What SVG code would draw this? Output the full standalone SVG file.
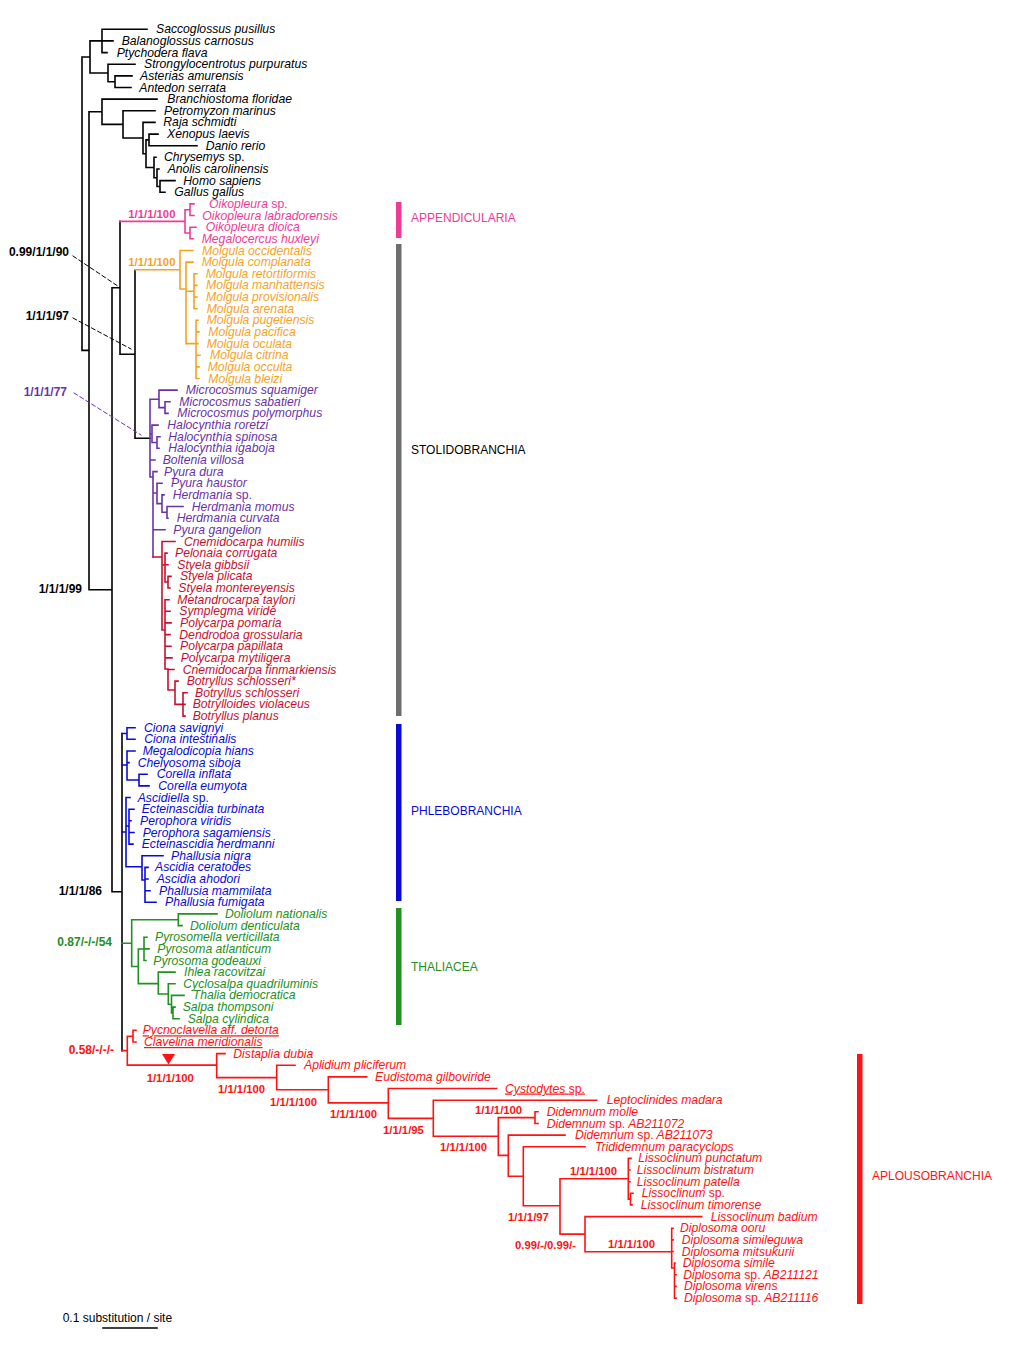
<svg xmlns="http://www.w3.org/2000/svg" width="1024" height="1365" viewBox="0 0 1024 1365">
<style>
path{fill:none;stroke-width:1.6;stroke-linecap:square}
.k{stroke:#000}.pk{stroke:#ee3c96}.or{stroke:#f5a31e}.pu{stroke:#6a32a8}.cr{stroke:#c8102e}.bl{stroke:#0a0ad8}.gr{stroke:#229022}.rd{stroke:#ff1212}
text{font-family:"Liberation Sans",Arial,sans-serif}
.sp{font-size:12.2px;font-style:italic}
.n{font-style:normal}
.lb{font-size:11.3px;font-weight:bold}
.lb2{font-size:12px;font-weight:bold;text-anchor:end}
.cl{font-size:12px}
.fk{fill:#000}.fpk{fill:#ee3c96}.for{fill:#f5a31e}.fpu{fill:#6a32a8}.fcr{fill:#c8102e}.fbl{fill:#0a0ad8}.fgr{fill:#229022}.frd{fill:#ff1212}
.u{text-decoration:underline}
.dash{stroke-width:1;stroke-dasharray:4 3}
</style>
<g id="connectors">
<path class="k" d="M82,57V350.4M82,57H90M82,350.4H89M90,40.9V73M90,40.9H102M90,73H108M102,29.3V52.6M102,29.3H147M102,40.9H113M102,52.6H107M108,64.2V81.7M108,64.2H135M108,81.7H115M115,75.9V87.5M115,75.9H132M115,87.5H131M89,111.8V589.7M89,111.8H102M89,589.7H112M102,99.1V124.4M102,99.1H157M102,124.4H123M123,110.8V138M123,110.8H155M123,138H143M143,122.4V153.7M143,122.4H155M143,153.7H146M146,139.9V167.5M146,139.9H149M146,167.5H154M149,134.1V145.7M149,134.1H158M149,145.7H197M154,157.3V177.7M154,157.3H156M154,177.7H157M157,169V186.5M157,169H159M157,186.5H160M160,180.6V192.3M160,180.6H175M160,192.3H165M112,287.7V891.7M112,287.7H120M112,891.7H122M120,221.4V354.2M120,354.2H135M135,269.8V438.3M135,438.3H150M122,733.5V1050.6"/>
<path class="pk" d="M120,221.4H185M185,209.7V233M185,209.7H190M185,233H190M190,203.9V215.5M190,203.9H194M190,215.5H194M190,227.2V238.8M190,227.2H196M190,238.8H193"/>
<path class="or" d="M135,269.8H180M180,250.5V289M180,250.5H193M180,289H186M186,262.1V343.6M186,262.1H193M186,291.2H194M194,273.7V308.7M194,273.7H197M194,285.4H197M194,297H197M194,308.7H197M186,343.6H196M196,320.3V378.5M196,320.3H198M196,331.9H199M196,343.6H198M196,355.2H200M196,366.9H199M196,378.5H199"/>
<path class="pu" d="M150,399.3V477M150,399.3H159M159,390.1V407.6M159,390.1H177M159,407.6H165M165,401.8V413.4M165,401.8H170M165,413.4H168M150,434H152M152,425.1V442.5M152,425.1H158M152,442.5H157M157,436.7V448.3M157,436.7H160M157,448.3H159M150,460H155M150,477H153M153,471.6V557M153,471.6H157M153,493H157M157,483.3V503.6M157,483.3H162M157,503.6H162M162,494.9V512.3M162,494.9H164M162,512.3H167M167,506.5V518.2M167,506.5H183M167,518.2H168M153,529.8H165"/>
<path class="cr" d="M153,557H162M162,541.5V630M162,541.5H175M162,565H165M165,553.1V582M165,553.1H167M165,564.7H168M165,582H168M168,576.4V588M168,576.4H171M168,588H170M162,630H165M165,599.7V669M165,599.7H169M165,611.3H170M165,622.9H171M165,634.6H170M165,646.2H171M165,657.9H172M165,669H168M168,669.5V690M168,669.5H174M168,690H175M175,681.1V704.4M175,681.1H178M175,704.4H183M183,692.8V716.1M183,692.8H187M183,704.4H185M183,716.1H185"/>
<path class="bl" d="M122,733.5H127M127,727.7V739.3M127,727.7H135M127,739.3H135M122,765H127M127,751V780M127,751H135M127,762.6H129M127,780H139M139,774.3V785.9M139,774.3H147M139,785.9H149M122,832H126M126,797.5V866.7M126,797.5H130M126,826H129M129,809.2V844.1M129,809.2H134M129,820.8H131M129,832.5H134M129,844.1H133M126,866.7H142M142,855.7V880M142,855.7H163M142,880H145M145,867.4V902.3M145,867.4H148M145,879H148M145,890.7H150M145,902.3H156"/>
<path class="gr" d="M122,943.2H131.7M131.7,919.8V966.5M131.7,919.8H178.3M178.3,913.9V925.6M178.3,913.9H217M178.3,925.6H182M131.7,966.5H138.3M138.3,949V983.6M138.3,949H144M144,937.2V960.5M144,937.2H147M144,948.9H149M144,960.5H146M138.3,983.6H158.3M158.3,972.1V994M158.3,972.1H175M158.3,994H168.3M168.3,983.8V1004.2M168.3,983.8H175M168.3,1004.2H171.5M171.5,995.4V1012.9M171.5,995.4H184M171.5,1012.9H173M173,1007.1V1018.7M173,1007.1H175M173,1018.7H179"/>
<path class="rd" d="M122,1050.6H127.3M127.3,1036.2V1065.1M127.3,1036.2H133M133,1030.3V1042M133,1030.3H136M133,1042H136M127.3,1065.1H216.7M216.7,1053.6V1077.6M216.7,1053.6H225M216.7,1077.6H276.7M276.7,1065.3V1089.8M276.7,1065.3H295M276.7,1089.8H328.3M328.3,1076.9V1102.9M328.3,1076.9H366.7M328.3,1102.9H388.3M388.3,1088.5V1118.4M388.3,1088.5H496.7M388.3,1118.4H433.3M433.3,1100.2V1136.3M433.3,1100.2H596.7M433.3,1136.3H498.3M498.3,1117.6V1155.4M498.3,1117.6H535M535,1111.8V1123.5M535,1111.8H538M535,1123.5H538M498.3,1155.4H508.3M508.3,1135.1V1176.2M508.3,1135.1H565M508.3,1176.2H523.3M523.3,1146.7V1205.8M523.3,1146.7H585M523.3,1205.8H560M560,1178.7V1234.1M560,1178.7H628.3M628.3,1158.4V1199.1M628.3,1158.4H631M628.3,1170H630M628.3,1181.7H630M628.3,1199.1H630.5M630.5,1193.3V1204.9M630.5,1193.3H633M630.5,1204.9H632M560,1234.1H585M585,1216.6V1251.7M585,1216.6H701.7M585,1251.7H671.7M671.7,1228.2V1268M671.7,1228.2H673M671.7,1239.9H673M671.7,1251.5H673M671.7,1268H674.5M674.5,1263.1V1298.1M674.5,1263.1H675M674.5,1274.8H676M674.5,1286.4H676M674.5,1298.1H676"/>
<polygon points="162,1054 175,1054 168.5,1064.5" fill="#ff1212"/>
<path class="k dash" d="M73,256L117,285.5M73,318L131,349"/>
<path class="pu dash" d="M74,393L141,435"/>
</g>
<g id="support">
<text class="lb2 fk" x="69" y="256">0.99/1/1/90</text>
<text class="lb2 fk" x="69" y="320">1/1/1/97</text>
<text class="lb2 fpu" x="67" y="396">1/1/1/77</text>
<text class="lb2 fk" x="82" y="593">1/1/1/99</text>
<text class="lb2 fk" x="102" y="895">1/1/1/86</text>
<text class="lb2 fgr" x="112" y="946">0.87/-/-/54</text>
<text class="lb2 frd" x="114" y="1054">0.58/-/-/-</text>
<text class="lb fpk" x="128.3" y="217.5">1/1/1/100</text>
<text class="lb for" x="128.3" y="266">1/1/1/100</text>
<text class="lb frd" x="146.7" y="1082">1/1/1/100</text>
<text class="lb frd" x="218" y="1092.5">1/1/1/100</text>
<text class="lb frd" x="270" y="1106">1/1/1/100</text>
<text class="lb frd" x="330" y="1118">1/1/1/100</text>
<text class="lb frd" x="383" y="1133.5">1/1/1/95</text>
<text class="lb frd" x="440" y="1151">1/1/1/100</text>
<text class="lb frd" x="475" y="1114">1/1/1/100</text>
<text class="lb frd" x="570" y="1175">1/1/1/100</text>
<text class="lb frd" x="508" y="1221">1/1/1/97</text>
<text class="lb frd" x="515" y="1249">0.99/-/0.99/-</text>
<text class="lb frd" x="608" y="1248">1/1/1/100</text>
</g>
<g id="outgroup" class="sp fk">
<text id="n0" x="156" y="33.3">Saccoglossus pusillus</text>
<text id="n1" x="121.7" y="44.9">Balanoglossus carnosus</text>
<text id="n2" x="116.7" y="56.6">Ptychodera flava</text>
<text id="n3" x="144" y="68.2">Strongylocentrotus purpuratus</text>
<text id="n4" x="140" y="79.9">Asterias amurensis</text>
<text id="n5" x="139.3" y="91.5">Antedon serrata</text>
<text id="n6" x="167.3" y="103.1">Branchiostoma floridae</text>
<text id="n7" x="164" y="114.8">Petromyzon marinus</text>
<text id="n8" x="163.3" y="126.4">Raja schmidti</text>
<text id="n9" x="167" y="138.1">Xenopus laevis</text>
<text id="n10" x="205.7" y="149.7">Danio rerio</text>
<text id="n11" x="164" y="161.3">Chrysemys <tspan class="n">sp.</tspan></text>
<text id="n12" x="167.7" y="173">Anolis carolinensis</text>
<text id="n13" x="183.3" y="184.6">Homo sapiens</text>
<text id="n14" x="174.3" y="196.3">Gallus gallus</text>
</g>
<g id="appendicularia" class="sp fpk">
<text id="n15" x="209" y="207.9">Oikopleura <tspan class="n">sp.</tspan></text>
<text id="n16" x="202.3" y="219.5">Oikopleura labradorensis</text>
<text id="n17" x="205.7" y="231.2">Oikopleura dioica</text>
<text id="n18" x="201.7" y="242.8">Megalocercus huxleyi</text>
</g>
<g id="molgulidae" class="sp for">
<text id="n19" x="202" y="254.5">Molgula occidentalis</text>
<text id="n20" x="201.7" y="266.1">Molgula complanata</text>
<text id="n21" x="205.7" y="277.7">Molgula retortiformis</text>
<text id="n22" x="206" y="289.4">Molgula manhattensis</text>
<text id="n23" x="206" y="301">Molgula provisionalis</text>
<text id="n24" x="206.7" y="312.7">Molgula arenata</text>
<text id="n25" x="206.7" y="324.3">Molgula pugetiensis</text>
<text id="n26" x="208.3" y="335.9">Molgula pacifica</text>
<text id="n27" x="206.7" y="347.6">Molgula oculata</text>
<text id="n28" x="210" y="359.2">Molgula citrina</text>
<text id="n29" x="207.7" y="370.9">Molgula occulta</text>
<text id="n30" x="208.3" y="382.5">Molgula bleizi</text>
</g>
<g id="pyuridae" class="sp fpu">
<text id="n31" x="185.7" y="394.1">Microcosmus squamiger</text>
<text id="n32" x="179.3" y="405.8">Microcosmus sabatieri</text>
<text id="n33" x="177.3" y="417.4">Microcosmus polymorphus</text>
<text id="n34" x="167.3" y="429.1">Halocynthia roretzi</text>
<text id="n35" x="168.3" y="440.7">Halocynthia spinosa</text>
<text id="n36" x="168.3" y="452.3">Halocynthia igaboja</text>
<text id="n37" x="162.7" y="464">Boltenia villosa</text>
<text id="n38" x="164" y="475.6">Pyura dura</text>
<text id="n39" x="171" y="487.3">Pyura haustor</text>
<text id="n40" x="172.7" y="498.9">Herdmania <tspan class="n">sp.</tspan></text>
<text id="n41" x="191.7" y="510.5">Herdmania momus</text>
<text id="n42" x="176.7" y="522.2">Herdmania curvata</text>
<text id="n43" x="173.3" y="533.8">Pyura gangelion</text>
</g>
<g id="styelidae" class="sp fcr">
<text id="n44" x="184" y="545.5">Cnemidocarpa humilis</text>
<text id="n45" x="175" y="557.1">Pelonaia corrugata</text>
<text id="n46" x="177.3" y="568.7">Styela gibbsii</text>
<text id="n47" x="180" y="580.4">Styela plicata</text>
<text id="n48" x="178.3" y="592">Styela montereyensis</text>
<text id="n49" x="177.3" y="603.7">Metandrocarpa taylori</text>
<text id="n50" x="179.3" y="615.3">Symplegma viride</text>
<text id="n51" x="180" y="626.9">Polycarpa pomaria</text>
<text id="n52" x="179.3" y="638.6">Dendrodoa grossularia</text>
<text id="n53" x="180" y="650.2">Polycarpa papillata</text>
<text id="n54" x="180.7" y="661.9">Polycarpa mytiligera</text>
<text id="n55" x="182.7" y="673.5">Cnemidocarpa finmarkiensis</text>
<text id="n56" x="186.7" y="685.1">Botryllus schlosseri*</text>
<text id="n57" x="195" y="696.8">Botryllus schlosseri</text>
<text id="n58" x="192.7" y="708.4">Botrylloides violaceus</text>
<text id="n59" x="192.7" y="720.1">Botryllus planus</text>
</g>
<g id="phlebobranchia" class="sp fbl">
<text id="n60" x="144" y="731.7">Ciona savignyi</text>
<text id="n61" x="144.3" y="743.3">Ciona intestinalis</text>
<text id="n62" x="142.7" y="755">Megalodicopia hians</text>
<text id="n63" x="137.7" y="766.6">Chelyosoma siboja</text>
<text id="n64" x="156.7" y="778.3">Corella inflata</text>
<text id="n65" x="158.3" y="789.9">Corella eumyota</text>
<text id="n66" x="137.7" y="801.5">Ascidiella <tspan class="n">sp.</tspan></text>
<text id="n67" x="141.7" y="813.2">Ecteinascidia turbinata</text>
<text id="n68" x="140" y="824.8">Perophora viridis</text>
<text id="n69" x="142.7" y="836.5">Perophora sagamiensis</text>
<text id="n70" x="141.7" y="848.1">Ecteinascidia herdmanni</text>
<text id="n71" x="171" y="859.7">Phallusia nigra</text>
<text id="n72" x="155" y="871.4">Ascidia ceratodes</text>
<text id="n73" x="156.7" y="883">Ascidia ahodori</text>
<text id="n74" x="159" y="894.7">Phallusia mammilata</text>
<text id="n75" x="165" y="906.3">Phallusia fumigata</text>
</g>
<g id="thaliacea" class="sp fgr">
<text id="n76" x="225" y="917.9">Doliolum nationalis</text>
<text id="n77" x="190" y="929.6">Doliolum denticulata</text>
<text id="n78" x="155" y="941.2">Pyrosomella verticillata</text>
<text id="n79" x="157.3" y="952.9">Pyrosoma atlanticum</text>
<text id="n80" x="153.3" y="964.5">Pyrosoma godeauxi</text>
<text id="n81" x="184" y="976.1">Ihlea racovitzai</text>
<text id="n82" x="183.3" y="987.8">Cyclosalpa quadriluminis</text>
<text id="n83" x="192.7" y="999.4">Thalia democratica</text>
<text id="n84" x="182.7" y="1011.1">Salpa thompsoni</text>
<text id="n85" x="187.7" y="1022.7">Salpa cylindica</text>
</g>
<g id="aplousobranchia" class="sp frd">
<text id="n86" class="u" x="142.7" y="1034.3">Pycnoclavella aff. detorta</text>
<text id="n87" class="u" x="144" y="1046">Clavelina meridionalis</text>
<text id="n88" x="233.3" y="1057.6">Distaplia dubia</text>
<text id="n89" x="304" y="1069.3">Aplidium pliciferum</text>
<text id="n90" x="375" y="1080.9">Eudistoma gilboviride</text>
<text id="n91" class="u" x="505" y="1092.5">Cystodytes <tspan class="n">sp.</tspan></text>
<text id="n92" x="606.7" y="1104.2">Leptoclinides madara</text>
<text id="n93" x="546.7" y="1115.8">Didemnum molle</text>
<text id="n94" x="546.7" y="1127.5">Didemnum <tspan class="n">sp.</tspan> AB211072</text>
<text id="n95" x="575" y="1139.1">Didemnum <tspan class="n">sp.</tspan> AB211073</text>
<text id="n96" x="595" y="1150.7">Trididemnum paracyclops</text>
<text id="n97" x="638.3" y="1162.4">Lissoclinum punctatum</text>
<text id="n98" x="636.7" y="1174">Lissoclinum bistratum</text>
<text id="n99" x="636.7" y="1185.7">Lissoclinum patella</text>
<text id="n100" x="641.7" y="1197.3">Lissoclinum <tspan class="n">sp.</tspan></text>
<text id="n101" x="640.7" y="1208.9">Lissoclinum timorense</text>
<text id="n102" x="710.7" y="1220.6">Lissoclinum badium</text>
<text id="n103" x="680" y="1232.2">Diplosoma ooru</text>
<text id="n104" x="681.7" y="1243.9">Diplosoma simileguwa</text>
<text id="n105" x="681.7" y="1255.5">Diplosoma mitsukurii</text>
<text id="n106" x="682.7" y="1267.1">Diplosoma simile</text>
<text id="n107" x="683.3" y="1278.8">Diplosoma <tspan class="n">sp.</tspan> AB211121</text>
<text id="n108" x="684" y="1290.4">Diplosoma virens</text>
<text id="n109" x="684" y="1302.1">Diplosoma <tspan class="n">sp.</tspan> AB211116</text>
</g>
<g id="clades">
<rect x="396" y="202" width="5.5" height="36" fill="#ee3c96"/>
<text class="cl fpk" x="411" y="222">APPENDICULARIA</text>
<rect x="396" y="244" width="5.5" height="472" fill="#6e6e6e"/>
<text class="cl fk" x="411" y="454">STOLIDOBRANCHIA</text>
<rect x="396" y="724" width="5.5" height="177" fill="#0a0ad8"/>
<text class="cl fbl" x="411" y="815">PHLEBOBRANCHIA</text>
<rect x="396" y="908" width="5.5" height="117" fill="#229022"/>
<text class="cl fgr" x="411" y="971">THALIACEA</text>
<rect x="857" y="1054" width="5.5" height="250" fill="#ff1212"/>
<text class="cl frd" x="872" y="1180">APLOUSOBRANCHIA</text>
</g>
<g id="scale">
<text class="cl fk" x="62.7" y="1322">0.1 substitution / site</text>
<path class="k" d="M103,1328H157"/>
</g>
</svg>
